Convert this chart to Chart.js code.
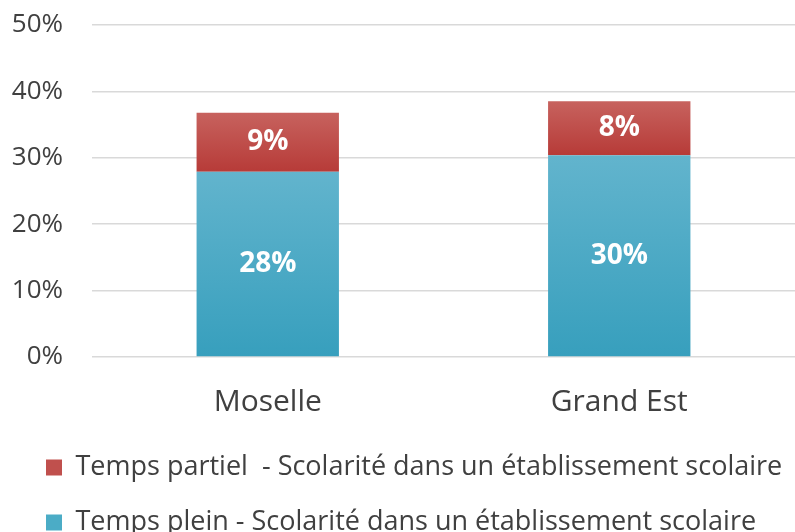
<!DOCTYPE html>
<html>
<head>
<meta charset="utf-8">
<script src="https://cdn.jsdelivr.net/npm/chart.js@4"></script>
<style>
  html, body { margin: 0; padding: 0; background: #fff; }
  #wrap { width: 795px; height: 532px; }
</style>
</head>
<body>
<div id="wrap"><canvas id="chart" width="795" height="532"></canvas></div>
<script>
// Données
const territoires = ['Moselle', 'Grand Est'];
const tempsPlein = [27.9, 30.4];
const tempsPartiel = [8.9, 8.1];
const labelPlein = 'Temps plein - Scolarité dans un établissement scolaire';
const labelPartiel = 'Temps partiel  - Scolarité dans un établissement scolaire';

const textColor = '#404040';
const fontFamily = '"Open Sans", sans-serif';

// Dégradé vertical pour chaque segment de barre (clair en haut, foncé en bas)
function barGradient(ctx, haut, bas) {
    const chart = ctx.chart;
    if (!chart.chartArea || ctx.type !== 'data') return haut;
    const y = chart.scales.y;
    const i = ctx.dataIndex;
    let debut = 0;
    for (let k = 0; k < ctx.datasetIndex; k++) debut += chart.data.datasets[k].data[i];
    const fin = debut + chart.data.datasets[ctx.datasetIndex].data[i];
    const g = chart.ctx.createLinearGradient(0, y.getPixelForValue(fin), 0, y.getPixelForValue(debut));
    g.addColorStop(0, haut);
    g.addColorStop(1, bas);
    return g;
}

// Étiquettes de valeur au centre de chaque segment
const etiquettes = {
    id: 'etiquettes',
    afterDatasetsDraw(chart) {
        const ctx = chart.ctx;
        ctx.save();
        ctx.fillStyle = '#ffffff';
        ctx.font = 'bold 28px ' + fontFamily;
        ctx.textAlign = 'center';
        ctx.textBaseline = 'middle';
        chart.data.datasets.forEach((ds, d) => {
            chart.getDatasetMeta(d).data.forEach((bar, i) => {
                ctx.fillText(Math.round(ds.data[i]) + '%', bar.x, (bar.y + bar.base) / 2);
            });
        });
        ctx.restore();
    }
};

// Décale la légende vers la droite, comme dans l'original
const decalageLegende = {
    id: 'decalageLegende',
    afterLayout(chart) {
        chart.legend.left += 18;
        chart.legend.right += 18;
    }
};

new Chart(document.getElementById('chart'), {
    type: 'bar',
    data: {
        labels: territoires,
        datasets: [{
            label: labelPlein,
            data: tempsPlein,
            legendColor: '#4bacc6',
            backgroundColor: ctx => barGradient(ctx, '#62b4cd', '#379fbd'),
            categoryPercentage: 1,
            barPercentage: 0.405
        }, {
            label: labelPartiel,
            data: tempsPartiel,
            legendColor: '#c0504d',
            backgroundColor: ctx => barGradient(ctx, '#c7625e', '#b73b38'),
            categoryPercentage: 1,
            barPercentage: 0.405
        }]
    },
    options: {
        responsive: false,
        animation: false,
        layout: { padding: { top: 25, right: 0, left: 0, bottom: -14 } },
        scales: {
            x: {
                stacked: true,
                afterFit: scale => { scale.height -= 21; },
                grid: { display: false, drawTicks: false },
                border: { display: false },
                ticks: { color: textColor, font: { family: fontFamily, size: 30 }, padding: 27 }
            },
            y: {
                stacked: true,
                min: 0,
                max: 50,
                afterFit: scale => {
                    scale.width = 92;
                    scale.paddingTop = 0;
                    scale.paddingBottom = 0;
                },
                grid: { color: '#d9d9d9', lineWidth: 1.5, drawTicks: false },
                border: { display: false },
                ticks: {
                    stepSize: 10,
                    color: textColor,
                    font: { family: fontFamily, size: 26 },
                    padding: 29,
                    callback: v => v + '%'
                }
            }
        },
        plugins: {
            tooltip: { enabled: false },
            legend: {
                position: 'bottom',
                align: 'start',
                reverse: true,
                labels: {
                    color: textColor,
                    font: { family: fontFamily, size: 27 },
                    boxWidth: 16,
                    boxHeight: 16,
                    padding: 28,
                    generateLabels: chart => chart.data.datasets.map((ds, i) => ({
                        text: ds.label,
                        fillStyle: ds.legendColor,
                        strokeStyle: ds.legendColor,
                        lineWidth: 0,
                        fontColor: textColor,
                        datasetIndex: i,
                        hidden: false
                    }))
                }
            }
        }
    },
    plugins: [etiquettes, decalageLegende]
});
</script>
</body>
</html>
